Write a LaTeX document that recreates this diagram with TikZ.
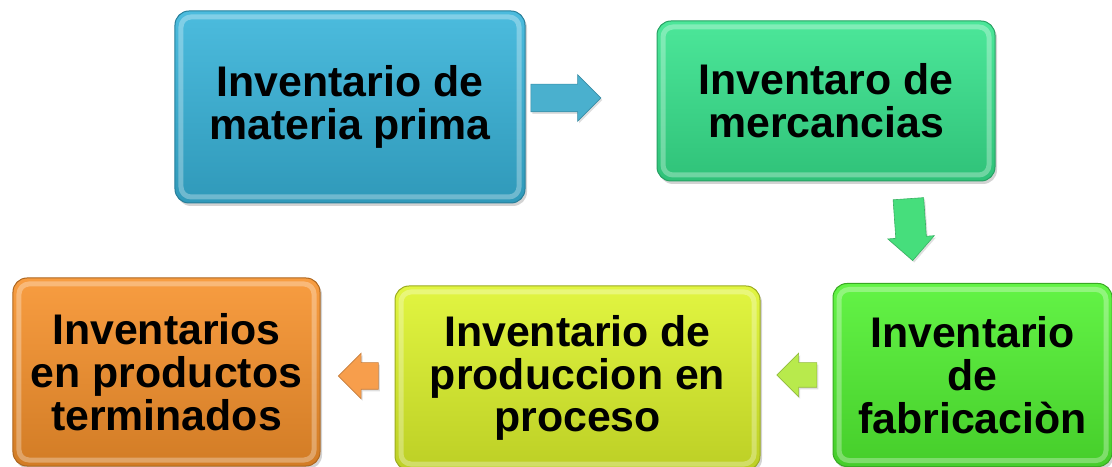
\documentclass[tikz,border=0pt]{standalone}
\usepackage{fontspec}
\setmainfont{Liberation Sans}
\usetikzlibrary{shapes.arrows, shadows}
\definecolor{matblue}{RGB}{56,180,218}
\definecolor{mercgreen}{RGB}{56,228,142}
\definecolor{fabgreen}{RGB}{82,242,50}
\definecolor{procyellow}{RGB}{222,244,44}
\definecolor{termorange}{RGB}{247,146,44}
\definecolor{arrblue}{RGB}{74,176,206}
\definecolor{arrgreen}{RGB}{70,222,124}
\definecolor{arrlime}{RGB}{184,234,76}
\definecolor{arrorange}{RGB}{247,158,76}

\begin{document}
\begin{tikzpicture}[
    x=1bp, y=-1bp,
    stage/.style={rectangle, rounded corners=14bp, draw=#1!70!black, line width=1bp,
        top color=#1!90!white, bottom color=#1!85!black, align=center, inner sep=0pt,
        font=\fontsize{43}{43}\selectfont\bfseries,
        drop shadow={shadow xshift=2bp, shadow yshift=-3bp, opacity=0.35},
        path picture={\draw[white, opacity=0.3, line width=5bp, rounded corners=10bp]
            ([shift={(6bp,-6bp)}]path picture bounding box.north west) rectangle
            ([shift={(-6bp,6bp)}]path picture bounding box.south east);}},
    flow/.style={single arrow, draw=#1!80!black, fill=#1, line width=0.6bp, inner xsep=0pt,
        single arrow head indent=0pt,
        drop shadow={shadow xshift=1.5bp, shadow yshift=-2bp, opacity=0.25}}
]
    \useasboundingbox (0,0) rectangle (1112,467);

    % Stages
    \node[stage=matblue, minimum width=350bp, minimum height=192bp] (mp) at (350,107) {Inventario de\\materia prima};
    \node[stage=mercgreen, minimum width=338bp, minimum height=160bp] (mc) at (826,101) {Inventaro de\\mercancias};
    \node[stage=fabgreen, minimum width=279bp, minimum height=183bp] (fab) at (972.5,375) {Inventario\\de\\fabricaciòn};
    \node[stage=procyellow, minimum width=365bp, minimum height=184bp] (proc) at (577.5,378) {Inventario de\\produccion en\\proceso};
    \node[stage=termorange, minimum width=307bp, minimum height=188bp] (term) at (166.5,372) {Inventarios\\en productos\\terminados};

    % Block arrows
    \node[flow=arrblue, inner ysep=13.5bp, minimum height=70bp, single arrow head extend=9.5bp] (a1) at (559,98) {};
    \node[flow=arrgreen, rotate=-86, inner ysep=15bp, minimum height=62bp, single arrow head extend=8bp] (a2) at (910,222) {};
    \node[flow=arrlime, rotate=180, inner ysep=12bp, minimum height=40bp, single arrow head extend=9.5bp] (a3) at (803,375) {};
    \node[flow=arrorange, rotate=180, inner ysep=13bp, minimum height=40bp, single arrow head extend=9.5bp] (a4) at (365,376) {};
\end{tikzpicture}
\end{document}
